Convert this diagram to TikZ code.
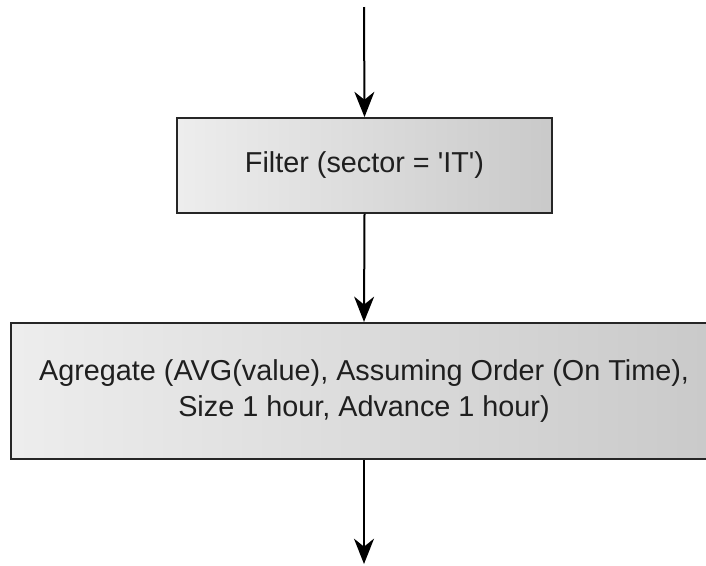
\documentclass[tikz,border=0pt]{standalone}
\usepackage{fontspec}
\setmainfont{Liberation Sans}
\usetikzlibrary{arrows.meta}
\begin{document}
\begin{tikzpicture}[x=0.75pt,y=-0.75pt,
  opbox/.style={draw=black!85, line width=1.6pt, left color=black!7, right color=black!21,
    align=center, inner sep=0pt, font=\fontsize{21.6}{27.5}\selectfont, text=black!88},
  flow/.style={line width=1.5pt, -{Stealth[length=19pt,width=15pt,inset=6pt]}}]
\useasboundingbox (0,0) rectangle (706,565);
\clip (0,0) rectangle (706,565);
\coordinate (top) at (364,7);
\coordinate (bot) at (364,564);
\node[opbox, minimum width=281pt, minimum height=71pt] (f) at (364.5,165.5) {Filter (sector = \textquotesingle IT\textquotesingle)};
\node[opbox, minimum width=529.5pt, minimum height=102pt] (a) at (364,391) {Agregate (AVG(value), Assuming Order (On Time),\\Size 1 hour, Advance 1 hour)};
\draw[flow] (top) -- (f.north);
\draw[flow] (f.south) -- (a.north);
\draw[flow] (a.south) -- (bot);
\end{tikzpicture}
\end{document}
